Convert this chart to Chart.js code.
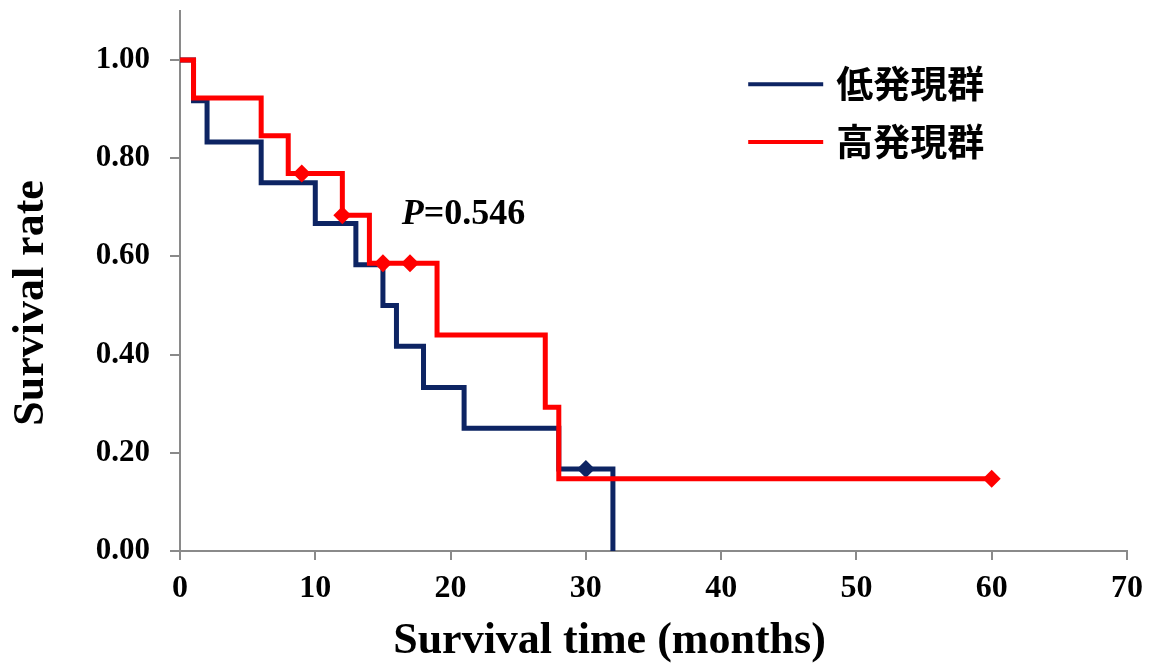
<!DOCTYPE html>
<html>
<head>
<meta charset="utf-8">
<script src="https://cdn.jsdelivr.net/npm/chart.js@4/dist/chart.umd.min.js"></script>
<style>
    html, body { margin: 0; padding: 0; background: #ffffff; }
    #wrap { width: 1153px; height: 670px; }
</style>
</head>
<body>
<div id="wrap"><canvas id="survivalChart"></canvas></div>
<script>
// Kaplan-Meier steps (time in months, survival rate after the event)
const lowTime = [0, 1, 2, 6, 10, 13, 15, 16, 18, 21, 28, 32];
const lowRate = [1.000, 0.917, 0.833, 0.750, 0.667, 0.583, 0.500, 0.417, 0.333, 0.250, 0.167, 0.000];
const lowCensorTime = [30];
const lowCensorRate = [0.167];

const highTime = [0, 1, 6, 8, 12, 14, 19, 27, 28, 60];
const highRate = [1.000, 0.923, 0.846, 0.769, 0.684, 0.586, 0.440, 0.293, 0.147, 0.147];
const highCensorTime = [9, 12, 15, 17, 60];
const highCensorRate = [0.769, 0.684, 0.586, 0.586, 0.147];

const seriesNames = ['低発現群', '高発現群'];
const timeTicks = [0, 10, 20, 30, 40, 50, 60, 70];
const rateTicks = [0, 0.2, 0.4, 0.6, 0.8, 1.0];
const pValueText = '=0.546';

const navy = '#0d2463';
const red = '#ff0000';
const axisGray = '#8a8a8a';

function toPoints(xs, ys) {
    return xs.map((x, i) => ({ x: x, y: ys[i] }));
}

// legend + P value drawn inside the plot
const annotations = {
    id: 'annotations',
    afterDatasetsDraw(chart) {
        const ctx = chart.ctx;
        const xs = chart.scales.x;
        const ys = chart.scales.y;
        ctx.save();

        // P value
        const px = xs.getPixelForValue(16.4);
        const py = ys.getPixelForValue(0.686);
        ctx.textBaseline = 'middle';
        ctx.textAlign = 'left';
        ctx.fillStyle = '#000';
        ctx.font = 'italic bold 36px "Liberation Serif"';
        ctx.fillText('P', px, py);
        const pw = ctx.measureText('P').width;
        ctx.font = 'bold 36px "Liberation Serif"';
        ctx.fillText(pValueText, px + pw, py);

        // legend, in the order of seriesNames
        const lines = seriesNames.map(n => chart.data.datasets.find(d => d.label === n));
        const lx = xs.getPixelForValue(42);
        const rows = [0.951, 0.833];
        lines.forEach((d, i) => {
            const ly = ys.getPixelForValue(rows[i]);
            ctx.strokeStyle = d.borderColor;
            ctx.lineWidth = 4;
            ctx.beginPath();
            ctx.moveTo(lx, ly);
            ctx.lineTo(lx + 75, ly);
            ctx.stroke();
            ctx.fillStyle = '#000';
            ctx.font = 'bold 37px "Noto Sans CJK JP"';
            ctx.fillText(d.label, lx + 88, ly);
        });
        ctx.restore();
    }
};

new Chart(document.getElementById('survivalChart'), {
    type: 'scatter',
    data: {
        datasets: [
            {
                label: seriesNames[1] + ' censored',
                data: toPoints(highCensorTime, highCensorRate),
                pointStyle: 'rectRot',
                pointRadius: 9,
                backgroundColor: red,
                borderColor: red,
                borderWidth: 0,
                showLine: false,
                order: 0
            },
            {
                label: seriesNames[1],
                data: toPoints(highTime, highRate),
                showLine: true,
                stepped: 'before',
                borderColor: red,
                borderWidth: 5,
                pointRadius: 0,
                fill: false,
                order: 1
            },
            {
                label: seriesNames[0] + ' censored',
                data: toPoints(lowCensorTime, lowCensorRate),
                pointStyle: 'rectRot',
                pointRadius: 9,
                backgroundColor: navy,
                borderColor: navy,
                borderWidth: 0,
                showLine: false,
                order: 2
            },
            {
                label: seriesNames[0],
                data: toPoints(lowTime, lowRate),
                showLine: true,
                stepped: 'before',
                borderColor: navy,
                borderWidth: 5,
                pointRadius: 0,
                fill: false,
                order: 3
            }
        ]
    },
    options: {
        responsive: true,
        maintainAspectRatio: false,
        animation: false,
        layout: { autoPadding: false, padding: { left: 0, right: 26, top: 11, bottom: 0 } },
        plugins: {
            legend: { display: false },
            tooltip: { enabled: false }
        },
        scales: {
            x: {
                type: 'linear',
                min: 0,
                max: 70,
                afterBuildTicks: (axis) => { axis.ticks = timeTicks.map(v => ({ value: v })); },
                afterFit: (axis) => {
                    axis.height = 119;
                    axis.paddingLeft = 0;
                    axis.paddingRight = 0;
                },
                grid: { drawOnChartArea: false, drawTicks: true, tickLength: 9, color: axisGray, lineWidth: 2 },
                border: { color: axisGray, width: 2 },
                ticks: {
                    color: '#000',
                    padding: 10,
                    font: { family: 'Liberation Serif', size: 32, weight: 'bold' }
                },
                title: {
                    display: true,
                    // trailing spaces pull the centred title a little to the left
                    text: 'Survival time (months)        ',
                    color: '#000',
                    padding: { top: 0, bottom: 2 },
                    font: { family: 'Liberation Serif', size: 44, weight: 'bold' }
                }
            },
            y: {
                type: 'linear',
                min: 0,
                max: 1.1,
                afterBuildTicks: (axis) => { axis.ticks = rateTicks.map(v => ({ value: v })); },
                afterFit: (axis) => {
                    axis.width = 180;
                    axis.paddingTop = 0;
                    axis.paddingBottom = 0;
                },
                grid: { drawOnChartArea: false, drawTicks: true, tickLength: 10, color: axisGray, lineWidth: 2 },
                border: { color: axisGray, width: 2 },
                ticks: {
                    color: '#000',
                    padding: 20,
                    callback: (v) => v.toFixed(2),
                    font: { family: 'Liberation Serif', size: 31, weight: 'bold' }
                },
                title: {
                    display: true,
                    text: 'Survival rate    ',
                    color: '#000',
                    padding: { top: 5, bottom: 0 },
                    font: { family: 'Liberation Serif', size: 44, weight: 'bold' }
                }
            }
        }
    },
    plugins: [annotations]
});
</script>
</body>
</html>
